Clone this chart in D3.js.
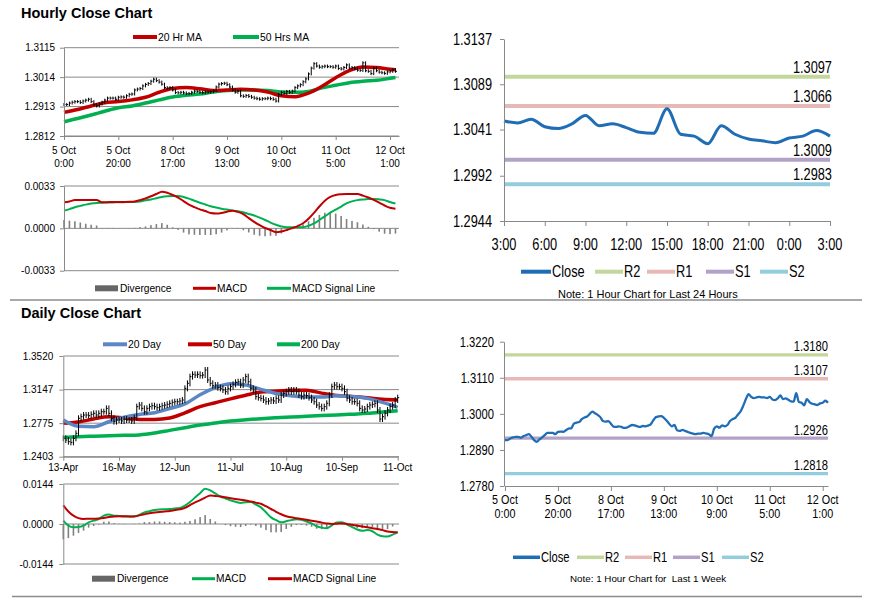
<!DOCTYPE html>
<html>
<head>
<meta charset="utf-8">
<script src="https://cdn.jsdelivr.net/npm/d3@7"></script>
<style>
body { margin: 0; background: #fff; }
svg { display: block; }
.axis path, .axis line { stroke: #898989; }
.axis text { fill: #000; }
</style>
</head>
<body>
<svg id="chart" width="873" height="601"></svg>
<script>
// ---------------- hourly data (5 Oct 0:00 .. 12 Oct 3:00) ----------------
var hourClose = [
    1.2920, 1.2920, 1.2925, 1.2928, 1.2930, 1.2930, 1.2927, 1.2932, 1.2935, 1.2938,
    1.2930, 1.2920, 1.2915, 1.2922, 1.2928, 1.2935, 1.2942, 1.2942, 1.2942, 1.2938,
    1.2945, 1.2946, 1.2945, 1.2950, 1.2955, 1.2956, 1.2970, 1.2973, 1.2975, 1.2984,
    1.2989, 1.2992, 1.3000, 1.3007, 1.3002, 1.2997, 1.2990, 1.2978, 1.2976, 1.2978,
    1.2970, 1.2961, 1.2960, 1.2962, 1.2960, 1.2957, 1.2958, 1.2962, 1.2966, 1.2965,
    1.2962, 1.2960, 1.2963, 1.2962, 1.2964, 1.2968, 1.2980, 1.2990, 1.2992, 1.2993,
    1.2988, 1.2980, 1.2970, 1.2962, 1.2966, 1.2950, 1.2948, 1.2951, 1.2948, 1.2945,
    1.2942, 1.2940, 1.2938, 1.2940, 1.2940, 1.2942, 1.2940, 1.2938, 1.2932, 1.2955,
    1.2962, 1.2958, 1.2965, 1.2962, 1.2966, 1.2978, 1.2984, 1.2988, 1.2998, 1.3008,
    1.3025, 1.3045, 1.3060, 1.3052, 1.3048, 1.3050, 1.3052, 1.3050,
    1.3050, 1.3048, 1.3052, 1.3044, 1.3042, 1.3047, 1.3056, 1.3045, 1.3047, 1.3043,
    1.3038, 1.3037, 1.3063, 1.3036, 1.3034, 1.3026, 1.3045, 1.3036, 1.3031, 1.3029,
    1.3027, 1.3032, 1.3034, 1.3040, 1.3034];

var hourTickIdx = [0, 20, 40, 60, 80, 100, 120];
var hourTickDay = ["5 Oct", "5 Oct", "8 Oct", "9 Oct", "10 Oct", "11 Oct", "12 Oct"];
var hourTickTime = ["0:00", "20:00", "17:00", "13:00", "9:00", "5:00", "1:00"];
var hourPriceTicks = ["1.2812", "1.2913", "1.3014", "1.3115"];
var hourMacdTicks = ["-0.0033", "0.0000", "0.0033"];

var hourMaIdx = [0, 5, 10, 15, 20, 25, 30, 35, 40, 45, 50, 55, 60, 65, 70, 75, 80, 85, 90, 95, 100, 105, 110, 115, 120, 122];
var hourMa20 = [1.2893, 1.2903, 1.2915, 1.2926, 1.2930, 1.2936, 1.2945, 1.2962, 1.2975, 1.2978, 1.2974, 1.2968, 1.2970,
    1.2972, 1.2970, 1.2963, 1.2950, 1.2947, 1.2959, 1.2983, 1.3012, 1.3036, 1.3049, 1.3047, 1.3041, 1.3039];
var hourMa50 = [1.2861, 1.2872, 1.2884, 1.2897, 1.2909, 1.2915, 1.2925, 1.2936, 1.2946, 1.2952, 1.2956, 1.2963, 1.2968,
    1.2970, 1.2970, 1.2968, 1.2963, 1.2962, 1.2965, 1.2977, 1.2986, 1.2995, 1.3000, 1.3003, 1.3010, 1.3013];

var hourMacdIdx = d3.range(0, 123, 2);
var hourMacd = [0.00203, 0.00210, 0.00220, 0.00221, 0.00221, 0.00221, 0.00220, 0.00203, 0.00204, 0.00205, 0.00205,
    0.00206, 0.00207, 0.00210, 0.00220, 0.00233, 0.00250, 0.00268, 0.00286, 0.00278, 0.00260, 0.00240, 0.00212,
    0.00185, 0.00165, 0.00148, 0.00135, 0.00120, 0.00116, 0.00120, 0.00130, 0.00138, 0.00128, 0.00110, 0.00080,
    0.00050, 0.00025, 0.00003, -0.00013, -0.00030, -0.00025, -0.00013, 0.00002, 0.00018, 0.00040, 0.00075, 0.00120,
    0.00170, 0.00215, 0.00245, 0.00260, 0.00266, 0.00268, 0.00268, 0.00268, 0.00255, 0.00240, 0.00222, 0.00200,
    0.00178, 0.00160, 0.00152];
var hourSignal = [0.00138, 0.00150, 0.00165, 0.00175, 0.00185, 0.00193, 0.00198, 0.00200, 0.00201, 0.00202, 0.00203,
    0.00204, 0.00205, 0.00206, 0.00210, 0.00218, 0.00225, 0.00235, 0.00245, 0.00250, 0.00252, 0.00252, 0.00245,
    0.00232, 0.00215, 0.00200, 0.00186, 0.00172, 0.00162, 0.00153, 0.00146, 0.00140, 0.00133, 0.00125, 0.00112,
    0.00100, 0.00083, 0.00065, 0.00045, 0.00028, 0.00015, 0.00008, 0.00008, 0.00009, 0.00009, 0.00020, 0.00038,
    0.00065, 0.00093, 0.00122, 0.00145, 0.00170, 0.00195, 0.00210, 0.00220, 0.00225, 0.00228, 0.00228, 0.00226,
    0.00220, 0.00205, 0.00193];

// ---------------- daily data (13 Apr .. 11 Oct) ----------------
var dayClose = [
    1.2607, 1.2588, 1.2570, 1.2562, 1.2607, 1.2662, 1.2829, 1.2847, 1.2865, 1.2865,
    1.2858, 1.2873, 1.2884, 1.2865, 1.2884, 1.2902, 1.2902, 1.2939, 1.2884, 1.2829,
    1.2792, 1.2810, 1.2810, 1.2799, 1.2821, 1.2810, 1.2810, 1.2799, 1.2836, 1.2958,
    1.2976, 1.2939, 1.2902, 1.2939, 1.2958, 1.2969, 1.2958, 1.2947, 1.2958, 1.2969,
    1.2976, 1.2984, 1.2995, 1.3006, 1.3013, 1.3013, 1.3021, 1.3032, 1.3161, 1.3217,
    1.3291, 1.3317, 1.3309, 1.3317, 1.3302, 1.3309, 1.3365, 1.3254, 1.3217, 1.3191,
    1.3198, 1.3169, 1.3161, 1.3143, 1.3124, 1.3161, 1.3180, 1.3206, 1.3228, 1.3235,
    1.3198, 1.3254, 1.3291, 1.3235, 1.3161, 1.3143, 1.3069, 1.3058, 1.3050, 1.3032,
    1.3013, 1.3021, 1.3032, 1.3021, 1.3050, 1.3032, 1.3087, 1.3106, 1.3124, 1.3143,
    1.3124, 1.3143, 1.3124, 1.3087, 1.3069, 1.3087, 1.3080, 1.3058, 1.3032, 1.3013,
    1.2976, 1.2958, 1.2939, 1.2958, 1.2995, 1.3087, 1.3180, 1.3198, 1.3180, 1.3180,
    1.3161, 1.3124, 1.3050, 1.3032, 1.3013, 1.3013, 1.2995, 1.2939, 1.2921, 1.2932,
    1.2958, 1.2976, 1.2984, 1.2995, 1.2921, 1.2821, 1.2847, 1.2884, 1.2921, 1.2958,
    1.2976, 1.3032, 1.3058];

var dayTickIdx = [0, 22, 44, 66, 88, 110, 132];
var dayTickLabel = ["13-Apr", "16-May", "12-Jun", "11-Jul", "10-Aug", "10-Sep", "11-Oct"];
var dayPriceTicks = ["1.2403", "1.2775", "1.3147", "1.3520"];
var dayMacdTicks = ["-0.0144", "0.0000", "0.0144"];

var dayMaIdx = d3.range(0, 133, 6);
var dayMa20 = [1.2810, 1.2740, 1.2735, 1.2791, 1.2840, 1.2872, 1.2890, 1.2938, 1.2988, 1.3090, 1.3170, 1.3212,
    1.3198, 1.3150, 1.3105, 1.3080, 1.3065, 1.3066, 1.3078, 1.3069, 1.3050, 1.3005, 1.2950];
var dayMa50 = [1.2773, 1.2788, 1.2822, 1.2845, 1.2832, 1.2817, 1.2817, 1.2832, 1.2890, 1.2958, 1.3002, 1.3045,
    1.3085, 1.3120, 1.3128, 1.3140, 1.3140, 1.3108, 1.3082, 1.3072, 1.3058, 1.3040, 1.3032];
var dayMa200 = [1.2617, 1.2624, 1.2630, 1.2635, 1.2640, 1.2645, 1.2665, 1.2695, 1.2725, 1.2754, 1.2777, 1.2800,
    1.2812, 1.2825, 1.2835, 1.2843, 1.2851, 1.2859, 1.2866, 1.2875, 1.2884, 1.2898, 1.2913];

var dayMacdIdx = d3.range(0, 133, 2);
var dayMacd = [0.0012, -0.0006, -0.0012, -0.0011, -0.0006, 0.0006, 0.0012, 0.0018, 0.0030, 0.0034, 0.0030, 0.0029,
    0.0027, 0.0027, 0.0028, 0.0033, 0.0042, 0.0046, 0.0050, 0.0052, 0.0053, 0.0054, 0.0056, 0.0058, 0.0066, 0.0079,
    0.0095, 0.0111, 0.0127, 0.0121, 0.0110, 0.0099, 0.0092, 0.0085, 0.0080, 0.0076, 0.0078, 0.0079, 0.0070, 0.0060,
    0.0042, 0.0024, 0.0014, 0.0006, 0.0010, 0.0014, 0.0017, 0.0015, 0.0009, 0.0002, -0.0008, -0.0013, -0.0015,
    -0.0005, 0.0005, 0.0006, -0.0002, -0.0011, -0.0020, -0.0024, -0.0022, -0.0026, -0.0038, -0.0044, -0.0045,
    -0.0038, -0.0030];
var daySignal = [0.0067, 0.0045, 0.0030, 0.0021, 0.0018, 0.0019, 0.0019, 0.0020, 0.0022, 0.0025, 0.0027, 0.0028,
    0.0028, 0.0027, 0.0027, 0.0031, 0.0035, 0.0039, 0.0041, 0.0043, 0.0045, 0.0047, 0.0050, 0.0053, 0.0058, 0.0068,
    0.0078, 0.0086, 0.0095, 0.0103, 0.0101, 0.0099, 0.0096, 0.0093, 0.0090, 0.0087, 0.0085, 0.0081, 0.0077, 0.0073,
    0.0064, 0.0054, 0.0044, 0.0035, 0.0028, 0.0024, 0.0021, 0.0018, 0.0015, 0.0012, 0.0009, 0.0005, 0.0002, 0.0000,
    0.0001, 0.0002, 0.0000, -0.0003, -0.0006, -0.0009, -0.0012, -0.0015, -0.0018, -0.0022, -0.0027, -0.0029,
    -0.0030];

// ---------------- pivot levels ----------------
var levelNames = ["R2", "R1", "S1", "S2"];
var levelColors = ["#c3d69b", "#e6b9b8", "#b3a2c7", "#93cddd"];
var level24 = [1.3097, 1.3066, 1.3009, 1.2983];
var levelWeek = [1.3180, 1.3107, 1.2926, 1.2818];
var tick24Idx = [0, 3, 6, 9, 12, 15, 18, 21, 24];
var tick24Label = ["3:00", "6:00", "9:00", "12:00", "15:00", "18:00", "21:00", "0:00", "3:00"];
var price24Ticks = ["1.2944", "1.2992", "1.3041", "1.3089", "1.3137"];
var priceWeekTicks = ["1.2780", "1.2890", "1.3000", "1.3110", "1.3220"];

// --------------------------------------------------------------------------

var SANS = "'Liberation Sans', Arial, sans-serif";
var NARROW = "'Liberation Sans', Arial, sans-serif";
var SQUEEZE = 0.8;   // right-hand charts use a condensed face
var AXIS = "#898989";
var RED = "#c00000", GREEN = "#00b050", BLUE = "#5b87c5", DIV = "#808080", CLOSE = "#1f6db4";

var svg = d3.select("#chart");

// squeeze texts horizontally around their own anchor
function condense(sel) {
    sel.each(function () {
        var t = d3.select(this);
        var x = +t.attr("x") || 0;
        t.attr("x", x / SQUEEZE).attr("transform", "scale(" + SQUEEZE + ",1)");
    });
}

function leftAxis(y, x, labels, pad, font, size, narrow) {
    var g = svg.append("g").attr("class", "axis")
        .attr("transform", "translate(" + x + ",0)")
        .call(d3.axisLeft(y).tickValues(labels.map(Number))
            .tickFormat(function (d, i) { return labels[i]; })
            .tickSize(4).tickSizeOuter(0).tickPadding(pad));
    g.selectAll("text").attr("font-family", font).attr("font-size", size);
    if (narrow) condense(g.selectAll("text"));
}

function bottomAxis(x, yPos, idx, size) {
    svg.append("g").attr("class", "axis")
        .attr("transform", "translate(0," + yPos + ")")
        .call(d3.axisBottom(x).tickValues(idx).tickFormat("").tickSize(size).tickSizeOuter(0));
}

function grid(y, labels, x0, x1) {
    svg.append("g").selectAll("line").data(labels.map(Number)).enter().append("line")
        .attr("x1", x0).attr("x2", x1)
        .attr("y1", function (d) { return y(d); })
        .attr("y2", function (d) { return y(d); })
        .attr("stroke", AXIS).attr("stroke-width", 1);
}

function xLabels(x, idx, lines, baselines, font, size, narrow) {
    lines.forEach(function (arr, k) {
        var t = svg.append("g").selectAll("text").data(idx).enter().append("text")
            .attr("x", function (d) { return x(d); })
            .attr("y", baselines[k])
            .attr("text-anchor", "middle")
            .attr("font-family", font).attr("font-size", size)
            .text(function (d, i) { return arr[i]; });
        if (narrow) condense(t);
    });
}

function ohlcBars(x, y, closes, ext) {
    var g = svg.append("g");
    g.selectAll("line.v").data(closes).enter().append("line").attr("class", "v")
        .attr("x1", function (d, i) { return x(i); })
        .attr("x2", function (d, i) { return x(i); })
        .attr("y1", function (d, i) { return y(Math.max(d, i ? closes[i - 1] : d)) - ext; })
        .attr("y2", function (d, i) { return y(Math.min(d, i ? closes[i - 1] : d)) + ext; })
        .attr("stroke", "#000").attr("stroke-width", 1);
    g.selectAll("line.c").data(closes).enter().append("line").attr("class", "c")
        .attr("x1", function (d, i) { return x(i); })
        .attr("x2", function (d, i) { return x(i) + 1.5; })
        .attr("y1", function (d) { return y(d); })
        .attr("y2", function (d) { return y(d); })
        .attr("stroke", "#000").attr("stroke-width", 1);
}

function seriesLine(x, y, idx, values, color, width) {
    var line = d3.line()
        .x(function (d, i) { return x(idx[i]); })
        .y(function (d) { return y(d); })
        .curve(d3.curveMonotoneX);
    svg.append("path").attr("d", line(values))
        .attr("fill", "none").attr("stroke", color)
        .attr("stroke-width", width).attr("stroke-linejoin", "round");
}

function divergence(x, y, idx, macd, signal, w) {
    svg.append("g").selectAll("rect").data(macd).enter().append("rect")
        .attr("x", function (d, i) { return x(idx[i]) - w / 2; })
        .attr("width", w)
        .attr("y", function (d, i) { return Math.min(y(0), y(d - signal[i])); })
        .attr("height", function (d, i) { return Math.abs(y(0) - y(d - signal[i])); })
        .attr("fill", DIV);
}

function legendItem(x1, x2, y, color, thick, label, font, size, narrow) {
    svg.append("line").attr("x1", x1).attr("x2", x2).attr("y1", y).attr("y2", y)
        .attr("stroke", color).attr("stroke-width", thick);
    var t = svg.append("text").attr("x", x2 + 1).attr("y", y + size * 0.36)
        .attr("font-family", font).attr("font-size", size).text(label);
    if (narrow) condense(t);
}

function legendBox(x1, x2, y, label, font, size) {
    svg.append("rect").attr("x", x1).attr("y", y - 3).attr("width", x2 - x1).attr("height", 6).attr("fill", "#666");
    svg.append("text").attr("x", x2 + 2).attr("y", y + size * 0.36)
        .attr("font-family", font).attr("font-size", size).text(label);
}

// ---------------- separators & titles ----------------
svg.append("line").attr("x1", 10).attr("x2", 862).attr("y1", 300).attr("y2", 300).attr("stroke", "#8c8c8c").attr("stroke-width", 1.3);
svg.append("line").attr("x1", 12).attr("x2", 862).attr("y1", 596.5).attr("y2", 596.5).attr("stroke", "#8c8c8c").attr("stroke-width", 1.3);

svg.append("text").attr("x", 21).attr("y", 18.3).attr("font-family", SANS).attr("font-weight", "bold")
    .attr("font-size", 14.5).text("Hourly Close Chart");
svg.append("text").attr("x", 21).attr("y", 318.3).attr("font-family", SANS).attr("font-weight", "bold")
    .attr("font-size", 14.5).text("Daily Close Chart");

// ---------------- hourly close chart ----------------
var xH = d3.scaleLinear().domain([0, 123.3]).range([64, 399]);
var yH = d3.scaleLinear().domain([+hourPriceTicks[0], +hourPriceTicks[3]]).range([136, 47.7]);

grid(yH, hourPriceTicks, 64, 399);
seriesLine(xH, yH, hourMaIdx, hourMa50, GREEN, 3.5);
seriesLine(xH, yH, hourMaIdx, hourMa20, RED, 3.5);
ohlcBars(xH, yH, hourClose, 1.5);
leftAxis(yH, 64, hourPriceTicks, 5, SANS, 10);
bottomAxis(xH, 136, hourTickIdx, 4);
xLabels(xH, hourTickIdx, [hourTickDay, hourTickTime], [154, 166.7], SANS, 10);

legendItem(133, 157, 37, RED, 4, "20 Hr MA", SANS, 10.4);
legendItem(233, 259, 37, GREEN, 4, "50 Hrs MA", SANS, 10.4);

// ---------------- hourly MACD ----------------
var yHM = d3.scaleLinear().domain([+hourMacdTicks[0], +hourMacdTicks[2]]).range([270.7, 186]);
grid(yHM, hourMacdTicks, 64, 399);
divergence(xH, yHM, hourMacdIdx, hourMacd, hourSignal, 1.6);
seriesLine(xH, yHM, hourMacdIdx, hourSignal, GREEN, 2);
seriesLine(xH, yHM, hourMacdIdx, hourMacd, RED, 2);
leftAxis(yHM, 64, hourMacdTicks, 5, SANS, 10);

legendBox(95, 118, 288.3, "Divergence", SANS, 10.2);
legendItem(193, 216, 288.3, RED, 3, "MACD", SANS, 10.2);
legendItem(267, 291, 288.3, GREEN, 3, "MACD Signal Line", SANS, 10.2);

// ---------------- last 24 hours with pivots ----------------
var c24 = hourClose.slice(hourClose.length - 25);
var xC = d3.scaleLinear().domain([0, 24]).range([504, 830]);
var yC = d3.scaleLinear().domain([+price24Ticks[0], +price24Ticks[4]]).range([221, 39]);

level24.forEach(function (v, i) {
    svg.append("line").attr("x1", 504).attr("x2", 830).attr("y1", yC(v)).attr("y2", yC(v))
        .attr("stroke", levelColors[i]).attr("stroke-width", 4);
    var t = svg.append("text").attr("x", 832).attr("y", yC(v) - 4).attr("text-anchor", "end")
        .attr("font-family", NARROW).attr("font-size", 16).text(d3.format(".4f")(v));
    condense(t);
});
seriesLine(xC, yC, d3.range(25), c24, CLOSE, 3);
leftAxis(yC, 504, price24Ticks, 8, NARROW, 16, true);
bottomAxis(xC, 221, tick24Idx, 5);
xLabels(xC, tick24Idx, [tick24Label], [250], NARROW, 16, true);

legendItem(521, 551, 271.7, CLOSE, 4, "Close", NARROW, 16, true);
levelNames.forEach(function (n, i) {
    var lx = [595, 647, 706, 760][i];
    legendItem(lx, lx + 28, 271.7, levelColors[i], 4, n, NARROW, 16, true);
});
svg.append("text").attr("x", 558).attr("y", 297.5).attr("font-family", SANS).attr("font-size", 11)
    .text("Note: 1 Hour Chart for Last 24 Hours");

// ---------------- daily close chart ----------------
var xD = d3.scaleLinear().domain([0, 132]).range([63.3, 397.7]);
var yD = d3.scaleLinear().domain([+dayPriceTicks[0], +dayPriceTicks[3]]).range([456.7, 356]);

grid(yD, dayPriceTicks, 63.3, 399);
seriesLine(xD, yD, dayMaIdx, dayMa200, GREEN, 3.5);
seriesLine(xD, yD, dayMaIdx, dayMa50, RED, 3.5);
seriesLine(xD, yD, dayMaIdx, dayMa20, BLUE, 3.5);
ohlcBars(xD, yD, dayClose, 3);
leftAxis(yD, 63.3, dayPriceTicks, 6, SANS, 10);
bottomAxis(xD, 456.7, dayTickIdx, 4);
xLabels(xD, dayTickIdx, [dayTickLabel], [470.5], SANS, 10);

legendItem(103, 127, 344.3, BLUE, 4, "20 Day", SANS, 10.4);
legendItem(188, 212, 344.3, RED, 4, "50 Day", SANS, 10.4);
legendItem(277, 300, 344.3, GREEN, 4, "200 Day", SANS, 10.4);

// ---------------- daily MACD ----------------
var yDM = d3.scaleLinear().domain([+dayMacdTicks[0], +dayMacdTicks[2]]).range([564, 484]);
grid(yDM, dayMacdTicks, 63.3, 399);
divergence(xD, yDM, dayMacdIdx, dayMacd, daySignal, 1.6);
seriesLine(xD, yDM, dayMacdIdx, dayMacd, GREEN, 2);
seriesLine(xD, yDM, dayMacdIdx, daySignal, RED, 2);
leftAxis(yDM, 63.3, dayMacdTicks, 6, SANS, 10);

legendBox(92, 115, 578.7, "Divergence", SANS, 10.2);
legendItem(192, 215, 578.7, GREEN, 3, "MACD", SANS, 10.2);
legendItem(268, 292, 578.7, RED, 3, "MACD Signal Line", SANS, 10.2);

// ---------------- last week with pivots ----------------
var xW = d3.scaleLinear().domain([0, 122]).range([505, 828]);
var yW = d3.scaleLinear().domain([+priceWeekTicks[0], +priceWeekTicks[4]]).range([486, 341.7]);

levelWeek.forEach(function (v, i) {
    svg.append("line").attr("x1", 504).attr("x2", 828).attr("y1", yW(v)).attr("y2", yW(v))
        .attr("stroke", levelColors[i]).attr("stroke-width", 3.3);
    var t = svg.append("text").attr("x", 828).attr("y", yW(v) - 3.5).attr("text-anchor", "end")
        .attr("font-family", NARROW).attr("font-size", 14).text(d3.format(".4f")(v));
    condense(t);
});
seriesLine(xW, yW, d3.range(hourClose.length), hourClose, CLOSE, 2.3);
leftAxis(yW, 504, priceWeekTicks, 6, NARROW, 14, true);
bottomAxis(xW, 486, hourTickIdx, 5);
xLabels(xW, hourTickIdx, [hourTickDay, hourTickTime], [504.5, 518.5], NARROW, 13.5, true);

legendItem(513, 540, 557.3, CLOSE, 3.5, "Close", NARROW, 14, true);
levelNames.forEach(function (n, i) {
    var lx = [577, 625, 673, 722][i];
    legendItem(lx, lx + 27, 557.3, levelColors[i], 3.5, n, NARROW, 14, true);
});
svg.append("text").attr("x", 570).attr("y", 581.5).attr("font-family", SANS).attr("font-size", 9.8)
    .style("white-space", "pre").text("Note: 1 Hour Chart for  Last 1 Week");
</script>
</body>
</html>
